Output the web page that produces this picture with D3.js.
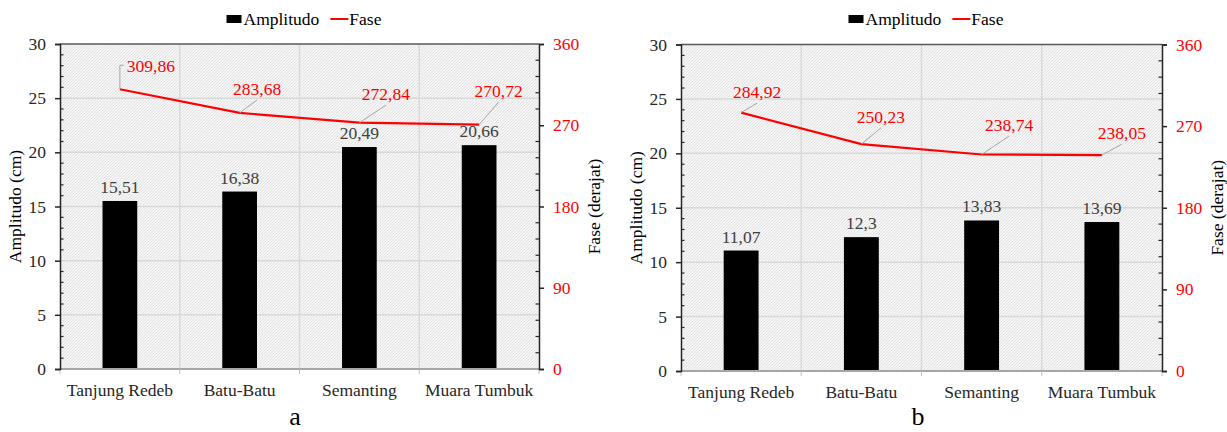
<!DOCTYPE html>
<html>
<head>
<meta charset="utf-8">
<script src="https://cdn.jsdelivr.net/npm/d3@7/dist/d3.min.js"></script>
<style>
  html, body { margin: 0; padding: 0; background: #fff; }
  svg text { font-family: "Liberation Serif", "Times New Roman", Tinos, serif !important; }
</style>
</head>
<body>
<svg id="chart" width="1227" height="432"></svg>
<script>
// Stations along the river
const categories = ["Tanjung Redeb", "Batu-Batu", "Semanting", "Muara Tumbuk"];

// Panel a
const amplitudoA = [15.51, 16.38, 20.49, 20.66];
const faseA = [309.86, 283.68, 272.84, 270.72];

// Panel b
const amplitudoB = [11.07, 12.3, 13.83, 13.69];
const faseB = [284.92, 250.23, 238.74, 238.05];

// Axis ticks
const ampTicks = [0, 5, 10, 15, 20, 25, 30];
const faseTicks = [0, 90, 180, 270, 360];

// Label formatting with a decimal comma
const fmt = v => String(v).replace(".", ",");
const SERIF = '"Liberation Serif", "Times New Roman", Tinos, serif';

// Placement of the phase labels relative to their points (text centre / baseline)
const faseLabelOffsetA = [
  { dx: 31, dy: -17, elbow: true },
  { dx: 17.5, dy: -18 },
  { dx: 26.5, dy: -22.5 },
  { dx: 19.5, dy: -27.5 }
];
const faseLabelOffsetB = [
  { dx: 16, dy: -14.5 },
  { dx: 19.5, dy: -21 },
  { dx: 27.5, dy: -23.5 },
  { dx: 20, dy: -16 }
];

const svg = d3.select("#chart");

// Fine diagonal texture for the plot area
const defs = svg.append("defs");
const pat = defs.append("pattern")
  .attr("id", "texture")
  .attr("patternUnits", "userSpaceOnUse")
  .attr("width", 3).attr("height", 3);
pat.append("rect").attr("width", 3).attr("height", 3).attr("fill", "#f5f5f5");
pat.append("path").attr("d", "M0,3 L3,0 M-1,1 L1,-1 M2,4 L4,2")
  .attr("stroke", "#dadada").attr("stroke-width", 0.7);

function txt(sel) {
  return sel.style("font-family", SERIF);
}

function drawPanel(p) {
  const g = svg.append("g");
  const x = d3.scaleBand().domain(categories).range([p.left, p.right]).padding(0);
  const yA = d3.scaleLinear().domain([0, 30]).range([p.bottom, p.top]);
  const yF = d3.scaleLinear().domain([0, 360]).range([p.bottom, p.top]);
  const bw = x.bandwidth();
  const cx = c => x(c) + bw / 2;

  // plot background
  g.append("rect")
    .attr("x", p.left).attr("y", p.top)
    .attr("width", p.right - p.left).attr("height", p.bottom - p.top)
    .attr("fill", "url(#texture)");

  // horizontal gridlines
  g.selectAll(".hgrid").data(ampTicks.filter(t => t > 0 && t < 30)).join("line")
    .attr("x1", p.left).attr("x2", p.right)
    .attr("y1", d => yA(d)).attr("y2", d => yA(d))
    .attr("stroke", "#d9d9d9").attr("stroke-width", 1.5);

  // vertical gridlines at category boundaries
  g.selectAll(".vgrid").data(categories.slice(1)).join("line")
    .attr("x1", d => x(d)).attr("x2", d => x(d))
    .attr("y1", p.top).attr("y2", p.bottom)
    .attr("stroke", "#d9d9d9").attr("stroke-width", 1.5);

  // bars
  g.selectAll(".bar").data(p.amp).join("rect")
    .attr("x", (d, i) => cx(categories[i]) - bw * 0.145)
    .attr("width", bw * 0.29)
    .attr("y", d => yA(d))
    .attr("height", d => p.bottom - yA(d))
    .attr("fill", "#000");

  // bar value labels
  g.selectAll(".barlab").data(p.amp).join("text")
    .attr("x", (d, i) => cx(categories[i]))
    .attr("y", d => yA(d) - 8)
    .attr("text-anchor", "middle")
    .attr("font-size", 17.5)
    .attr("fill", "#404040")
    .call(txt)
    .text(d => fmt(d));

  // top border
  g.append("line")
    .attr("x1", p.left).attr("x2", p.right)
    .attr("y1", p.top).attr("y2", p.top)
    .attr("stroke", "#595959").attr("stroke-width", 1.5);

  // category axis (bottom)
  g.append("line")
    .attr("x1", p.left).attr("x2", p.right)
    .attr("y1", p.bottom).attr("y2", p.bottom)
    .attr("stroke", "#a6a6a6").attr("stroke-width", 2);
  const bounds = categories.map(c => x(c)).concat([p.right]);
  g.selectAll(".xtick").data(bounds).join("line")
    .attr("x1", d => d).attr("x2", d => d)
    .attr("y1", p.bottom).attr("y2", p.bottom + 5)
    .attr("stroke", "#bfbfbf").attr("stroke-width", 1);
  g.selectAll(".xlab").data(categories).join("text")
    .attr("x", d => cx(d)).attr("y", p.bottom + 27)
    .attr("text-anchor", "middle")
    .attr("font-size", 17.5).attr("fill", "#262626")
    .call(txt)
    .text(d => d);

  // left axis: amplitude
  const leftAxis = d3.axisLeft(yA).tickValues(ampTicks).tickSize(5).tickPadding(9);
  const la = g.append("g").attr("transform", `translate(${p.left},0)`).call(leftAxis);
  la.attr("font-family", null);
  la.select(".domain").attr("stroke", "#262626").attr("stroke-width", 1.5);
  la.selectAll(".tick line").attr("stroke", "#262626").attr("stroke-width", 1.5);
  la.selectAll(".tick text").attr("font-size", 17.5).attr("fill", "#262626").call(txt);
  g.selectAll(".lminor").data(d3.range(1, 30).filter(v => v % 5 !== 0)).join("line")
    .attr("x1", p.left).attr("x2", p.left + 3.5)
    .attr("y1", d => yA(d)).attr("y2", d => yA(d))
    .attr("stroke", "#262626").attr("stroke-width", 1.2);

  // right axis: phase
  const rightAxis = d3.axisRight(yF).tickValues(faseTicks).tickSize(5).tickPadding(9);
  const ra = g.append("g").attr("transform", `translate(${p.right},0)`).call(rightAxis);
  ra.attr("font-family", null);
  ra.select(".domain").attr("stroke", "#262626").attr("stroke-width", 1.5);
  ra.selectAll(".tick line").attr("stroke", "#262626").attr("stroke-width", 1.5);
  ra.selectAll(".tick text").attr("font-size", 17.5).attr("fill", "#ff0000").call(txt);
  g.selectAll(".rminor").data(d3.range(18, 360, 18).filter(v => v % 90 !== 0)).join("line")
    .attr("x1", p.right - 3.5).attr("x2", p.right)
    .attr("y1", d => yF(d)).attr("y2", d => yF(d))
    .attr("stroke", "#262626").attr("stroke-width", 1.2);

  // phase line
  const line = d3.line().x((d, i) => cx(categories[i])).y(d => yF(d));
  g.append("path").datum(p.fase)
    .attr("d", line)
    .attr("fill", "none").attr("stroke", "#ff0000").attr("stroke-width", 2.2);

  // phase labels with leader lines
  p.fase.forEach((v, i) => {
    const px = cx(categories[i]), py = yF(v);
    const o = p.offsets[i];
    const tx = px + o.dx, ty = py + o.dy;
    const t = g.append("text")
      .attr("x", tx).attr("y", ty)
      .attr("text-anchor", "middle")
      .attr("font-size", 17.5).attr("fill", "#ff0000")
      .call(txt)
      .text(fmt(v));
    let d;
    if (o.elbow) {
      const w = t.node().getComputedTextLength();
      const ey = ty - 7;
      d = `M${px},${py}L${px},${ey}L${tx - w / 2 - 3},${ey}`;
    } else {
      d = `M${px},${py}L${tx},${ty + 5}`;
    }
    g.append("path").attr("d", d)
      .attr("fill", "none").attr("stroke", "#a6a6a6").attr("stroke-width", 1);
  });

  // axis titles
  const midY = (p.top + p.bottom) / 2;
  g.append("text")
    .attr("transform", `translate(${p.left - 45},${midY}) rotate(-90)`)
    .attr("text-anchor", "middle").attr("dy", "0.35em")
    .attr("font-size", 17.5).attr("fill", "#000")
    .call(txt)
    .text("Amplitudo (cm)");
  g.append("text")
    .attr("transform", `translate(${p.right + 55},${midY}) rotate(-90)`)
    .attr("text-anchor", "middle").attr("dy", "0.35em")
    .attr("font-size", 17.5).attr("fill", "#000")
    .call(txt)
    .text("Fase (derajat)");

  // legend
  const lx = (p.left + p.right) / 2 - 73;
  const ly = 19;
  const leg = g.append("g");
  leg.append("rect").attr("x", lx).attr("y", ly - 4).attr("width", 15).attr("height", 8).attr("fill", "#000");
  const t1 = leg.append("text").attr("x", lx + 17).attr("y", ly).attr("dy", "0.35em")
    .attr("font-size", 17.5).attr("fill", "#000").call(txt).text("Amplitudo");
  const w1 = t1.node().getComputedTextLength();
  const l0 = lx + 17 + w1 + 11;
  leg.append("line").attr("x1", l0).attr("x2", l0 + 18).attr("y1", ly).attr("y2", ly)
    .attr("stroke", "#ff0000").attr("stroke-width", 2);
  leg.append("text").attr("x", l0 + 19).attr("y", ly).attr("dy", "0.35em")
    .attr("font-size", 17.5).attr("fill", "#000").call(txt).text("Fase");

  // panel letter
  g.append("text")
    .attr("x", p.letterX).attr("y", 425)
    .attr("text-anchor", "middle")
    .attr("font-size", 26).attr("fill", "#000")
    .call(txt)
    .text(p.letter);
}

drawPanel({
  left: 60, right: 539, top: 44, bottom: 369,
  amp: amplitudoA, fase: faseA, offsets: faseLabelOffsetA,
  letter: "a", letterX: 295
});
drawPanel({
  left: 681, right: 1162, top: 44.5, bottom: 371,
  amp: amplitudoB, fase: faseB, offsets: faseLabelOffsetB,
  letter: "b", letterX: 918
});
</script>
</body>
</html>
